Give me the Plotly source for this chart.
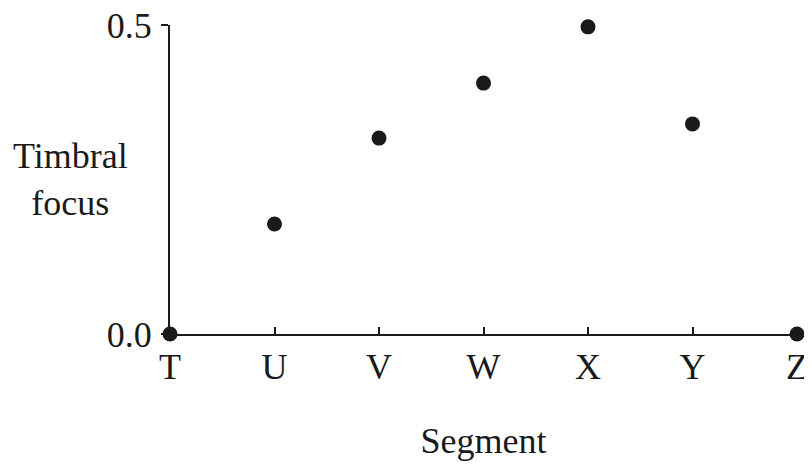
import plotly.graph_objects as go

segments = ["T", "U", "V", "W", "X", "Y", "Z"]
focus = [0.0, 0.178, 0.317, 0.406, 0.497, 0.340, 0.0]
y_ticks = [0.0, 0.5]
y_tick_labels = ["0.0", "0.5"]

FONT = "Liberation Serif, Times New Roman, serif"
INK = "#1a1a1a"
FS = 36

fig = go.Figure()
fig.add_trace(go.Scatter(
    x=list(range(len(segments))), y=focus, mode="markers",
    marker=dict(color=INK, size=15),
    cliponaxis=False, showlegend=False,
))
# invisible trace to activate overlaid y axis (ticks on both sides)
fig.add_trace(go.Scatter(x=[0], y=[0], yaxis="y2", mode="markers",
                         marker=dict(opacity=0), showlegend=False, hoverinfo="skip"))

# page body has an 8px margin, so the figure is shrunk/shifted to compensate
fig.update_layout(
    width=804, height=458,
    margin=dict(l=162, r=15, t=17, b=132),
    paper_bgcolor="white", plot_bgcolor="white",
    font=dict(family=FONT, size=FS, color=INK),
    xaxis=dict(
        range=[0, len(segments) - 1], automargin=False,
        tickmode="array", tickvals=list(range(len(segments))), ticktext=segments,
        ticks="inside", ticklen=7, tickwidth=2, tickcolor=INK,
        ticklabeloverflow="allow",
        showline=True, linecolor=INK, linewidth=2,
        showgrid=False, zeroline=False,
        title=dict(text="Segment", standoff=42, font=dict(size=FS)),
    ),
    yaxis=dict(
        range=[0, 0.5], automargin=False,
        tickmode="array", tickvals=y_ticks, ticktext=y_tick_labels,
        ticks="outside", ticklen=7, tickwidth=2, tickcolor=INK,
        ticklabelstandoff=2, ticklabeloverflow="allow",
        showline=True, linecolor=INK, linewidth=2,
        showgrid=False, zeroline=False,
    ),
    yaxis2=dict(
        range=[0, 0.5], overlaying="y", side="left", automargin=False,
        tickmode="array", tickvals=y_ticks,
        ticks="inside", ticklen=7, tickwidth=2, tickcolor=INK,
        showticklabels=False, showline=False, showgrid=False, zeroline=False,
    ),
    annotations=[dict(
        text="Timbral<br>focus", xref="paper", yref="paper",
        x=0, y=0.5, xanchor="right", yanchor="middle", xshift=-40,
        showarrow=False, align="center", font=dict(size=FS, family=FONT, color=INK),
    )],
)

fig.write_html("out.html")
